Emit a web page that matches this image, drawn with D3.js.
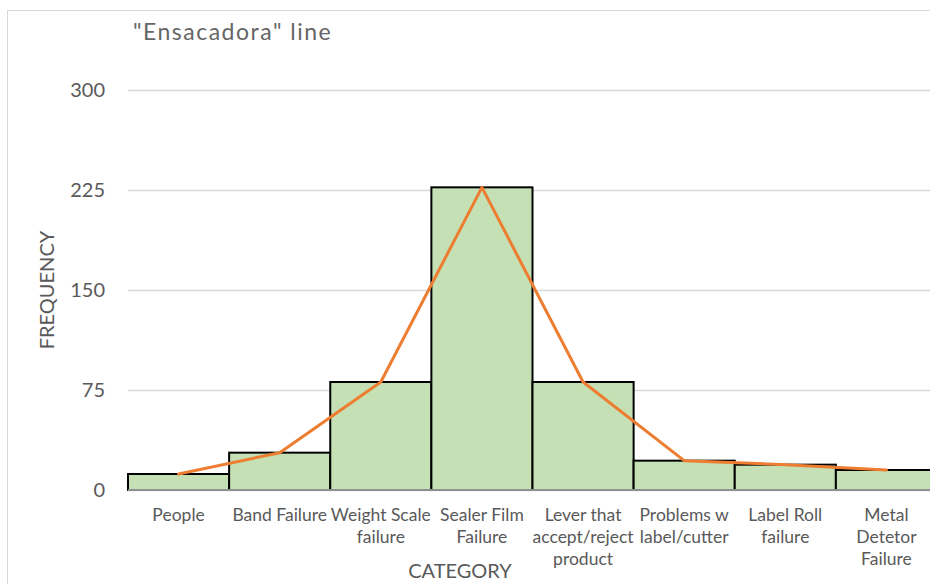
<!DOCTYPE html>
<html>
<head>
<meta charset="utf-8">
<script src="https://cdn.jsdelivr.net/npm/d3@7"></script>
<style>
  html, body { margin: 0; padding: 0; background: #fff; overflow: hidden; }
  svg { display: block; font-family: Lato, "Open Sans", sans-serif; }
</style>
</head>
<body>
<svg id="chart" width="930" height="584"></svg>
<script>
// Failure categories on the "Ensacadora" bagging line and their frequencies
const categories = [
  "People", "Band Failure", "Weight Scale failure", "Sealer Film Failure",
  "Lever that accept/reject product", "Problems w label/cutter",
  "Label Roll failure", "Metal Detetor Failure"
];
// Wrapped tick labels, one array of lines per category
const tickLabels = [
  ["People"], ["Band Failure"], ["Weight Scale", "failure"], ["Sealer Film", "Failure"],
  ["Lever that", "accept/reject", "product"], ["Problems w", "label/cutter"],
  ["Label Roll", "failure"], ["Metal", "Detetor", "Failure"]
];
const frequency = [12, 28, 81, 227, 81, 22, 19, 15];
const yTicks = [0, 75, 150, 225, 300];

const svg = d3.select("#chart");
const plot = { left: 128, right: 937, top: 90, bottom: 490 };

// Outer chart frame
svg.append("rect")
  .attr("x", 7.5).attr("y", 10.5)
  .attr("width", 1000).attr("height", 700)
  .attr("fill", "#fff").attr("stroke", "#D9D9D9").attr("stroke-width", 1);

const x = d3.scaleBand().domain(categories).range([plot.left, plot.right]).padding(0);
const y = d3.scaleLinear().domain([0, 300]).range([plot.bottom, plot.top]);

// Horizontal gridlines and value labels
const yAxis = d3.axisLeft(y).tickValues(yTicks).tickSize(-(plot.right - plot.left)).tickPadding(23);
const gy = svg.append("g").attr("transform", `translate(${plot.left},0)`).call(yAxis);
gy.select(".domain").remove();
gy.selectAll(".tick line").attr("stroke", "#D9D9D9").attr("stroke-width", 1.3);
gy.selectAll(".tick text")
  .attr("fill", "#595959").attr("font-size", 20).attr("font-family", "Lato, 'Open Sans', sans-serif");

// Bars
svg.append("g").selectAll("rect").data(frequency).join("rect")
  .attr("x", (d, i) => x(categories[i]))
  .attr("y", d => y(d))
  .attr("width", x.bandwidth())
  .attr("height", d => y(0) - y(d))
  .attr("fill", "#C5E0B4")
  .attr("stroke", "#000").attr("stroke-width", 2);

// Category axis line
svg.append("line")
  .attr("x1", plot.left).attr("x2", plot.right)
  .attr("y1", y(0)).attr("y2", y(0))
  .attr("stroke", "#BFBFBF").attr("stroke-width", 1.3);

// Frequency polygon through bar centres
const line = d3.line()
  .x((d, i) => x(categories[i]) + x.bandwidth() / 2)
  .y(d => y(d));
svg.append("path").datum(frequency)
  .attr("d", line)
  .attr("fill", "none").attr("stroke", "#ED7D31").attr("stroke-width", 3)
  .attr("stroke-linejoin", "round").attr("stroke-linecap", "round");

// Category tick labels
const labels = svg.append("g").attr("fill", "#595959").attr("font-size", 17.5).attr("text-anchor", "middle");
tickLabels.forEach((lines, i) => {
  const t = labels.append("text")
    .attr("x", x(categories[i]) + x.bandwidth() / 2)
    .attr("y", 521);
  lines.forEach((ln, j) => {
    t.append("tspan")
      .attr("x", x(categories[i]) + x.bandwidth() / 2)
      .attr("dy", j === 0 ? 0 : 22)
      .text(ln);
  });
});

// Axis titles
svg.append("text")
  .attr("x", 460).attr("y", 578)
  .attr("text-anchor", "middle").attr("fill", "#595959").attr("font-size", 20)
  .text("CATEGORY");
svg.append("text")
  .attr("transform", "translate(54,290) rotate(-90)")
  .attr("text-anchor", "middle").attr("fill", "#595959").attr("font-size", 20)
  .text("FREQUENCY");

// Chart title
svg.append("text")
  .attr("x", 133).attr("y", 40)
  .attr("fill", "#666").attr("font-size", 23).attr("letter-spacing", 1.5)
  .text("\"Ensacadora\" line");
</script>
</body>
</html>
